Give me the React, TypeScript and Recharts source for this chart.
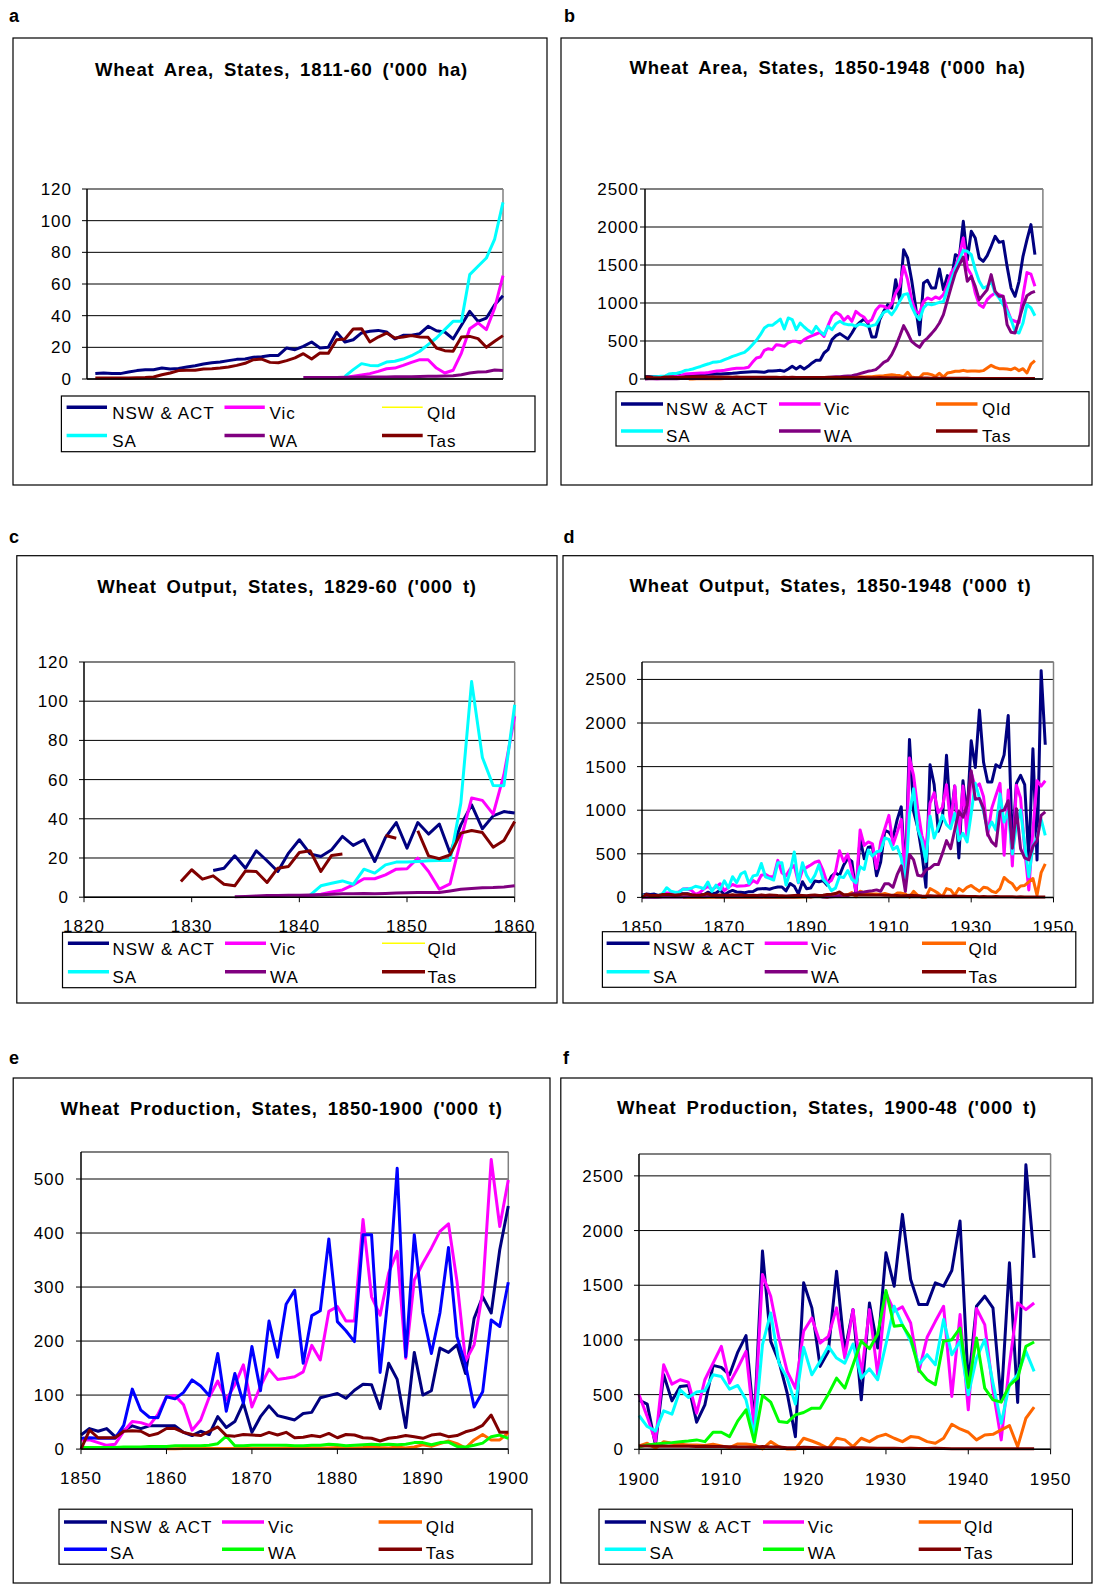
import React from "react";
import { LineChart, Line, XAxis, YAxis, CartesianGrid, ReferenceLine } from "recharts";

type V = number | null;
type Piece = { from: number; v: V[] };

// ---------- Wheat area ('000 ha), 1811-1860 ----------
const areaNsw1: Piece = { from: 1811, v: [
  3.4, 3.8, 3.4, 3.4, 4.4, 5.3, 5.9, 5.9, 6.9, 6.3,
  6.7, 7.6, 8.4, 9.5, 10.3, 10.7, 11.6, 12.4, 12.6, 13.7,
  14.1, 14.9, 14.9, 19.6, 18.5, 20.6, 23.4, 19.6, 20, 29.5,
  23.4, 24.8, 29.1, 30.1, 30.7, 29.7, 25.3, 27.6, 27.6, 28.6,
  33.3, 30.5, 29.7, 25.3, 33.9, 42.7, 36.4, 38.5, 46.9, 52.6] };
const areaVic1: Piece = { from: 1841, v: [
  1.0, 1.7, 2.5, 3.4, 4.8, 6.5, 6.9, 8.6, 10.5, 12.2,
  12.2, 6.9, 3.8, 5.5, 16.4, 31.8, 35.4, 31.2, 44.8, 65.3] };
const areaSa1: Piece = { from: 1841, v: [
  1.7, 5.9, 9.7, 8.6, 8.4, 10.7, 11.2, 12.6, 14.7, 17.5,
  21.7, 25.9, 31.2, 36.4, 36.4, 65.9, 71.2, 76.4, 88.4, 111.6] };
const areaWa1: Piece = { from: 1836, v: [
  1.0, 1.0, 1.0, 1.0, 1.0, 1.1, 1.1, 1.2, 1.2, 1.3, 1.3, 1.4, 1.4, 1.5,
  1.6, 1.7, 1.8, 1.9, 2.1, 2.7, 3.8, 4.4, 4.6, 5.7, 5.3] };
const areaTas1: Piece = { from: 1811, v: [
  0.6, 0.6, 0.6, 0.7, 0.7, 0.8, 0.9, 1.3, 2.7, 3.8,
  5.3, 5.5, 5.5, 6.3, 6.5, 6.9, 7.6, 8.6, 9.9, 12.2,
  12.6, 10.5, 10.3, 11.6, 13.3, 16, 12.6, 16.4, 16.2, 24.8,
  25.3, 31.6, 31.8, 23.4, 26.5, 29, 25.9, 26.5, 27.4, 26.5,
  26.3, 19.6, 17.9, 17.5, 26.5, 26.9, 25.5, 20, 23.8, 27.4] };

// ---------- Wheat area ('000 ha), 1861-1948 ----------
const areaNsw2: Piece = { from: 1861, v: [
  55, 58, 60, 57, 60, 62, 65, 68, 66, 70,
  72, 75, 80, 85, 88, 92, 95, 96, 92, 88,
  105, 105, 110, 114, 101, 132, 167, 132, 167, 132,
  167, 211, 246, 246, 342, 386, 518, 570, 597, 561,
  526, 605, 693, 746, 789, 737, 553, 553, 781, 890,
  978, 934, 1307, 1044, 1702, 1592, 1307, 956, 583, 1263,
  1298, 1197, 1197, 1447, 1175, 1360, 1307, 1636, 1605, 2075,
  1570, 1943, 1855, 1592, 1548, 1623, 1746, 1877, 1798, 1811,
  1482, 1197, 1088, 1285, 1614, 1833, 2031, 1636] };
const areaVic2: Piece = { from: 1861, v: [
  70, 72, 75, 78, 79, 85, 95, 105, 110, 114,
  125, 136, 140, 143, 145, 154, 219, 276, 289, 377,
  399, 386, 452, 443, 430, 474, 496, 496, 474, 518,
  548, 570, 592, 614, 561, 702, 825, 877, 846, 772,
  825, 759, 890, 846, 816, 746, 781, 904, 965, 956,
  921, 991, 1132, 1219, 1482, 1307, 1044, 890, 868, 1022,
  1066, 1044, 1079, 1057, 1110, 1241, 1404, 1474, 1623, 1855,
  1461, 1373, 1132, 978, 943, 1044, 1097, 1132, 1110, 1088,
  921, 781, 760, 740, 1100, 1400, 1380, 1220] };
const areaQld2: Piece = { from: 1861, v: [
  1, 1, 2, 2, 3, 3, 3, 4, 4, 5,
  5, 5, 6, 6, 7, 7, 8, 8, 8, 9,
  9, 9, 10, 10, 10, 11, 11, 12, 12, 12,
  13, 13, 14, 14, 15, 16, 17, 9, 15, 20,
  22, 15, 25, 30, 26, 28, 30, 35, 40, 44,
  50, 57, 48, 45, 30, 88, 25, 18, 20, 70,
  70, 57, 35, 75, 25, 79, 88, 101, 101, 114,
  101, 105, 105, 101, 110, 145, 180, 154, 136, 136,
  132, 123, 145, 110, 136, 79, 197, 241] };
const areaSa2: Piece = { from: 1861, v: [
  120, 132, 150, 165, 184, 200, 219, 225, 232, 254,
  275, 298, 315, 333, 351, 395, 452, 509, 583, 671,
  706, 706, 746, 789, 658, 803, 781, 649, 737, 684,
  640, 605, 693, 627, 583, 693, 649, 728, 759, 728,
  715, 715, 693, 724, 715, 693, 702, 715, 803, 877,
  899, 846, 921, 1022, 1110, 1123, 956, 846, 781, 934,
  991, 978, 991, 1009, 1018, 1175, 1307, 1447, 1570, 1693,
  1680, 1636, 1439, 1285, 1197, 1219, 1285, 1132, 1066, 978,
  890, 781, 627, 605, 737, 978, 934, 833] };
const areaWa2: Piece = { from: 1861, v: [
  6, 6.5, 7, 7.5, 8, 8.5, 9, 9.5, 10, 10,
  10, 11, 11, 12, 12, 12, 12, 12, 12, 12,
  12, 13, 13, 13, 14, 14, 14, 15, 15, 15,
  15, 16, 17, 17, 18, 20, 25, 28, 30, 35,
  40, 44, 55, 70, 85, 101, 110, 123, 167, 219,
  246, 320, 430, 561, 702, 605, 496, 452, 417, 496,
  539, 597, 658, 737, 846, 1035, 1219, 1395, 1504, 1605,
  1285, 1351, 1219, 1044, 1110, 1175, 1373, 1154, 1088, 1088,
  715, 614, 605, 781, 956, 1097, 1132, 1154] };
const areaTas2: Piece = { from: 1861, v: [
  27, 28, 29, 30, 28, 27, 28, 26, 27, 25,
  26, 24, 25, 23, 24, 22, 23, 24, 22, 24,
  23, 22, 24, 21, 22, 20, 22, 21, 20, 19,
  20, 21, 19, 20, 21, 22, 20, 19, 21, 20,
  20, 19, 18, 20, 19, 18, 17, 18, 19, 18,
  17, 16, 15, 14, 15, 14, 13, 12, 12, 13,
  12, 11, 12, 11, 11, 10, 10, 9, 10, 9,
  9, 8, 8, 8, 7, 7, 7, 6, 6, 6,
  6, 6, 5, 5, 5, 5, 5, 5] };

// ---------- Wheat output ('000 t), 1829-1860 ----------
const outNswC: Piece = { from: 1832, v: [
  13.6, 14.8, 21.1, 14.8, 23.7, 18.6, 13.1, 22.5, 29.3,
  22.1, 20.8, 24.2, 31, 26.4, 29.3, 18.2, 30.5, 38.1, 25,
  38.1, 32.2, 37.3, 22.5, 36.9, 47.1, 34.9, 41.5, 43.7, 42.9] };
const outVicC: Piece = { from: 1840, v: [
  0.5, 0.9, 1.5, 2.6, 3.7, 6.3, 9.4, 9.4, 11.4, 14.3, 14.5,
  19.9, 13.1, 4.1, 6.8, 29.3, 50.6, 49.4, 42.4, 62.5, 92.3] };
const outSaC: Piece = { from: 1841, v: [
  1.0, 5.8, 7.1, 8.3, 6.6, 14.3, 12.3, 16.5, 17.9, 17.9,
  18.2, 18.6, 18.7, 18.7, 48, 110, 71.3, 57, 56.9, 98.2] };
const outWaC: Piece = { from: 1834, v: [
  0.2, 0.4, 0.6, 0.8, 0.9, 1, 1, 1.1, 1.3, 1.5, 1.7, 1.8, 1.9, 1.8,
  1.9, 2.1, 2.3, 2.4, 2.4, 2.4, 3.2, 4.0, 4.4, 4.8, 4.9, 5.2, 5.8] };
const outTasC: Piece = { from: 1829, v: [
  8, 14, 9.2, 10.9, 6.6, 5.8, 13.4, 13.1, 7.5, 14.8, 15.7,
  22.8, 23.7, 13.1, 21.3, 22, null, null, null, 31.5, 30.1,
  null, 33.9, 21.1, 19.6, 21.6, 32.7, 34, 33, 25.5, 28.9, 38.6] };

// ---------- Wheat production ('000 t), 1850-1899 ----------
const prodNswE: Piece = { from: 1850, v: [
  26, 38, 33, 38, 23, 35, 43, 38, 43, 43,
  43, 43, 31, 25, 33, 27, 60, 40, 51, 85,
  31, 60, 80, 62, 58, 54, 66, 68, 95, 99,
  103, 94, 109, 120, 119, 75, 159, 129, 40, 179,
  100, 108, 187, 179, 193, 140, 242, 282, 252, 369] };
const prodVicE: Piece = { from: 1850, v: [
  17, 17, 12, 7, 9, 33, 51, 49, 44, 64,
  97, 99, 82, 35, 54, 96, 126, 91, 119, 156,
  78, 116, 148, 129, 131, 134, 143, 192, 165, 255,
  264, 237, 237, 425, 282, 248, 326, 366, 168, 313,
  344, 372, 403, 417, 310, 163, 193, 292, 536, 412] };
const prodQldE: Piece = { from: 1860, v: [
  0.5, 0.5, 1, 1, 1, 1, 1, 1, 1, 1,
  1, 1, 1, 1, 2, 2, 2, 2, 2, 2,
  3, 2, 2, 3, 5, 3, 2, 4, 2, 4,
  8, 5, 10, 15, 10, 2, 17, 27, 17, 17] };
const prodSaE: Piece = { from: 1850, v: [
  20, 21, 20, 20, 20, 44, 111, 72, 59, 58,
  97, 93, 105, 128, 117, 99, 177, 70, 140, 85,
  190, 108, 237, 170, 268, 294, 159, 247, 256, 389,
  236, 219, 199, 397, 397, 142, 292, 520, 171, 397,
  252, 177, 252, 373, 208, 156, 78, 106, 239, 227] };
const prodWaE: Piece = { from: 1850, v: [
  3, 3, 3, 3, 3, 4, 4, 4, 5, 5,
  5, 6, 6, 6, 6, 7, 10, 24, 6, 6,
  7, 7, 7, 7, 7, 6, 6, 7, 7, 9,
  8, 6, 7, 8, 9, 8, 9, 8, 9, 12,
  12, 8, 12, 13, 5, 4, 7, 11, 23, 26] };
const prodTasE: Piece = { from: 1850, v: [
  0, 35, 21, 21, 21, 33, 34, 33, 25, 29,
  38, 38, 31, 27, 25, 33, 41, 25, 24, 27,
  26, 25, 31, 26, 31, 21, 22, 25, 23, 29,
  21, 27, 26, 21, 20, 15, 20, 22, 25, 23,
  20, 26, 28, 23, 25, 32, 36, 44, 63, 31] };

// ---------- Wheat production ('000 t), 1900-1948 ----------
const prodNswF: Piece = { from: 1900, v: [
  450, 413, 40, 681, 443, 575, 584, 248, 406, 767,
  749, 681, 889, 1039, 238, 1812, 987, 804, 513, 116,
  1522, 1293, 758, 895, 1629, 895, 1277, 452, 1338, 926,
  1797, 1491, 2148, 1552, 1323, 1323, 1522, 1491, 1635, 2087,
  590, 1308, 1400, 1293, 437, 1705, 428, 2601, 1751] };
const prodVicF: Piece = { from: 1900, v: [
  498, 299, 70, 773, 596, 636, 614, 330, 636, 788,
  941, 605, 743, 895, 193, 1598, 1400, 1018, 712, 559,
  1079, 1201, 972, 1033, 1293, 834, 1277, 681, 1277, 681,
  1430, 1262, 1302, 1155, 712, 1024, 1170, 1308, 483, 1232,
  361, 1287, 1140, 544, 86, 773, 1338, 1277, 1338] };
const prodQldF: Piece = { from: 1900, v: [
  30, 55, 9, 70, 55, 46, 40, 40, 34, 46,
  31, 15, 49, 49, 40, 3, 70, 24, 3, 3,
  101, 76, 46, 9, 101, 86, 24, 101, 70, 116,
  137, 101, 70, 116, 107, 70, 55, 101, 229, 186,
  156, 86, 131, 137, 177, 217, 24, 284, 385] };
const prodSaF: Piece = { from: 1900, v: [
  309, 208, 168, 351, 321, 544, 474, 523, 535, 681,
  666, 550, 584, 452, 131, 957, 1247, 788, 651, 413,
  932, 681, 804, 941, 834, 788, 963, 651, 736, 636,
  963, 1308, 1140, 987, 773, 865, 773, 1186, 865, 987,
  498, 834, 1002, 605, 238, 590, 681, 895, 712] };
const prodWaF: Piece = { from: 1900, v: [
  20, 40, 49, 55, 61, 70, 76, 86, 70, 156,
  156, 116, 260, 361, 70, 492, 431, 254, 244, 315,
  336, 376, 376, 504, 651, 559, 773, 987, 920, 1054,
  1452, 1125, 1134, 1018, 727, 636, 590, 987, 1002, 1109,
  565, 1018, 559, 452, 431, 584, 651, 941, 981] };
const prodTasF: Piece = { from: 1900, v: [
  31, 30, 28, 30, 28, 27, 28, 26, 27, 25,
  26, 24, 22, 20, 18, 25, 22, 20, 15, 14,
  18, 17, 15, 14, 13, 12, 15, 14, 12, 10,
  10, 9, 8, 10, 8, 7, 9, 8, 6, 6,
  6, 5, 6, 5, 5, 4, 5, 5, 5] };

const NAVY = "#000080", MAGENTA = "#FF00FF", YELLOW = "#FFFF00", ORANGE = "#FF6600";
const CYAN = "#00FFFF", BLUE = "#0000FF", PURPLE = "#800080", GREEN = "#00FF00", MAROON = "#800000";
const FONT = "'Liberation Sans', Arial, Helvetica, sans-serif";

type S = { key: string; name: string; color: string; pieces: Piece[]; thin?: boolean };

type Panel = {
  letter: string; lx: number; ly: number;
  title: string; tx: number; ty: number;
  box: number[]; plot: number[];
  years: [number, number];
  xDomain: [number, number]; xTicks: number[]; xLabels: boolean; xMargin: number;
  yMax: number; yTicks: number[]; yMargin: number;
  series: S[];
  legBox: number[]; legLines: number[][]; legText: number[]; legRows: number[][];
};

const step = (a: number, b: number, s: number) => {
  const out: number[] = [];
  for (let x = a; x <= b; x += s) out.push(x);
  return out;
};

const valueAt = (pieces: Piece[], year: number): V => {
  for (const p of pieces) {
    const i = year - p.from;
    if (i >= 0 && i < p.v.length) return p.v[i];
  }
  return null;
};

const states = (nsw: Piece[], vic: Piece[], qld: Piece[], sa: Piece[], wa: Piece[], tas: Piece[],
  qldC: string, saC: string, waC: string, qldThin = false): S[] => [
  { key: "nsw", name: "NSW & ACT", color: NAVY, pieces: nsw },
  { key: "vic", name: "Vic", color: MAGENTA, pieces: vic },
  { key: "qld", name: "Qld", color: qldC, pieces: qld, thin: qldThin },
  { key: "sa", name: "SA", color: saC, pieces: sa },
  { key: "wa", name: "WA", color: waC, pieces: wa },
  { key: "tas", name: "Tas", color: MAROON, pieces: tas },
];

const panels: Panel[] = [
  {
    letter: "a", lx: 9, ly: 21.7, title: "Wheat Area, States, 1811-60 ('000 ha)", tx: 281.5, ty: 69.3,
    box: [13, 38, 547, 485], plot: [86.7, 189.3, 502.7, 379.3], years: [1811, 1860],
    xDomain: [1810, 1860], xTicks: step(1810, 1860, 10), xLabels: false, xMargin: 18,
    yMax: 120, yTicks: step(0, 120, 20), yMargin: 10,
    series: states([areaNsw1], [areaVic1], [], [areaSa1], [areaWa1], [areaTas1], YELLOW, CYAN, PURPLE, true),
    legBox: [61.4, 396, 535, 451.7], legLines: [[66.6, 107], [224.5, 264.8], [382, 422.7]],
    legText: [112.2, 269.4, 427], legRows: [[407.3, 413], [435.5, 441]],
  },
  {
    letter: "b", lx: 564, ly: 21.7, title: "Wheat Area, States, 1850-1948 ('000 ha)", tx: 827.6, ty: 67.7,
    box: [561, 38, 1092, 485], plot: [645.4, 189.3, 1043.3, 379.3], years: [1850, 1948],
    xDomain: [1850, 1950], xTicks: step(1850, 1950, 20), xLabels: false, xMargin: 18,
    yMax: 2500, yTicks: step(0, 2500, 500), yMargin: 1,
    series: states([areaNsw1, areaNsw2], [areaVic1, areaVic2], [areaQld2], [areaSa1, areaSa2],
      [areaWa1, areaWa2], [areaTas1, areaTas2], ORANGE, CYAN, PURPLE),
    legBox: [616, 391.7, 1089, 446], legLines: [[621, 663], [779, 820.6], [936, 977.5]],
    legText: [666, 824, 982], legRows: [[404, 409.3], [431, 436.3]],
  },
  {
    letter: "c", lx: 9, ly: 543.3, title: "Wheat Output, States, 1829-60 ('000 t)", tx: 287, ty: 586,
    box: [16.8, 555.7, 557, 1003], plot: [84, 662.3, 514.7, 897.5], years: [1829, 1860],
    xDomain: [1820, 1860], xTicks: step(1820, 1860, 10), xLabels: true, xMargin: 18,
    yMax: 120, yTicks: step(0, 120, 20), yMargin: 10,
    series: states([outNswC], [outVicC], [], [outSaC], [outWaC], [outTasC], YELLOW, CYAN, PURPLE, true),
    legBox: [62.5, 932.3, 535.7, 987.7], legLines: [[67.9, 109], [225, 266], [382, 425]],
    legText: [112.5, 270, 427.5], legRows: [[943.3, 949.3], [971.7, 977.3]],
  },
  {
    letter: "d", lx: 563.5, ly: 543, title: "Wheat Output, States, 1850-1948 ('000 t)", tx: 830.5, ty: 585,
    box: [563, 555.7, 1093, 1003], plot: [642, 662.3, 1053.5, 897.7], years: [1850, 1948],
    xDomain: [1850, 1950], xTicks: step(1850, 1950, 20), xLabels: true, xMargin: 19,
    yMax: 2700, yTicks: step(0, 2500, 500), yMargin: 10,
    series: states([prodNswE, prodNswF], [prodVicE, prodVicF], [prodQldE, prodQldF], [prodSaE, prodSaF],
      [prodWaE, prodWaF], [prodTasE, prodTasF], ORANGE, CYAN, PURPLE),
    legBox: [602.4, 931.7, 1075.8, 987.3], legLines: [[606.6, 649.5], [764.7, 807.7], [922, 966]],
    legText: [653, 811, 968.5], legRows: [[943.3, 949.3], [971.7, 977.3]],
  },
  {
    letter: "e", lx: 9, ly: 1064, title: "Wheat Production, States, 1850-1900 ('000 t)", tx: 281.6, ty: 1108.5,
    box: [13.2, 1078, 550, 1583], plot: [81, 1152, 508.3, 1449.1], years: [1850, 1900],
    xDomain: [1850, 1900], xTicks: step(1850, 1900, 10), xLabels: true, xMargin: 18,
    yMax: 550, yTicks: step(0, 500, 100), yMargin: 11,
    series: states([prodNswE, prodNswF], [prodVicE, prodVicF], [prodQldE, prodQldF], [prodSaE, prodSaF],
      [prodWaE, prodWaF], [prodTasE, prodTasF], ORANGE, BLUE, GREEN),
    legBox: [59, 1509.2, 532, 1564.2], legLines: [[64, 107], [222, 264], [378.6, 422]],
    legText: [110, 268, 425.7], legRows: [[1522, 1527.3], [1549.2, 1553.7]],
  },
  {
    letter: "f", lx: 563, ly: 1064, title: "Wheat Production, States, 1900-48 ('000 t)", tx: 827, ty: 1107.8,
    box: [560.8, 1078, 1092, 1583], plot: [638.7, 1154.2, 1050.3, 1449.5], years: [1900, 1948],
    xDomain: [1900, 1950], xTicks: step(1900, 1950, 10), xLabels: true, xMargin: 19,
    yMax: 2700, yTicks: step(0, 2500, 500), yMargin: 10,
    series: states([prodNswF], [prodVicF], [prodQldF], [prodSaF], [prodWaF], [prodTasF], ORANGE, CYAN, GREEN),
    legBox: [599, 1509.2, 1072.4, 1564.2], legLines: [[604.8, 646], [763, 804], [918.7, 961]],
    legText: [649.5, 807.7, 964], legRows: [[1522, 1527.3], [1549.2, 1553.7]],
  },
];

const YW = 60;
const XH = 44;
const MT = 10;
const MR = 36;

const tickStyle = { fontSize: 17, fill: "#000", fontFamily: FONT, letterSpacing: 1 };

const PanelChart = ({ p }: { p: Panel }) => {
  const [L, T, R, B] = p.plot;
  const rows = step(p.years[0], p.years[1], 1).map((year) => {
    const row: Record<string, V> = { year };
    p.series.forEach((s) => { row[s.key] = valueAt(s.pieces, year); });
    return row;
  });
  const w = YW + (R - L) + MR;
  const h = MT + (B - T) + XH;
  return (
    <div style={{ position: "absolute", left: L - YW, top: T - MT, width: w, height: h }}>
      <LineChart width={w} height={h} data={rows} margin={{ top: MT, right: MR, bottom: 0, left: 0 }}>
        <CartesianGrid vertical={false} stroke="#000" strokeWidth={1} />
        <ReferenceLine y={p.yMax} stroke="#808080" strokeWidth={1.5} />
        <ReferenceLine x={p.xDomain[1]} stroke="#808080" strokeWidth={1.5} />
        <XAxis dataKey="year" type="number" domain={p.xDomain} ticks={p.xTicks} interval={0}
          height={XH} tickSize={5} tickMargin={p.xMargin}
          axisLine={{ stroke: "#000", strokeWidth: 1.5 }} tickLine={{ stroke: "#000" }}
          tick={p.xLabels ? tickStyle : false} allowDecimals={false} />
        <YAxis type="number" domain={[0, p.yMax]} ticks={p.yTicks} interval={0} width={YW}
          tickSize={5} tickMargin={p.yMargin}
          axisLine={{ stroke: "#000", strokeWidth: 1.5 }} tickLine={{ stroke: "#000" }}
          tick={tickStyle} />
        {p.series.filter((s) => s.pieces.length > 0).map((s) => (
          <Line key={s.key} type="linear" dataKey={s.key} stroke={s.color} strokeWidth={3}
            strokeLinejoin="round" dot={false} activeDot={false} isAnimationActive={false} />
        ))}
      </LineChart>
    </div>
  );
};

const Overlay = () => (
  <svg width={1094} height={1585} style={{ position: "absolute", left: 0, top: 0, pointerEvents: "none" }}
    fontFamily={FONT}>
    {panels.map((p) => {
      const [bl, bt, br, bb] = p.box;
      const [gl, gt, gr, gb] = p.legBox;
      return (
        <g key={p.letter}>
          <rect x={bl} y={bt} width={br - bl} height={bb - bt} fill="none" stroke="#000" strokeWidth={1.2} />
          <text x={p.lx} y={p.ly} fontSize={18} fontWeight="bold">{p.letter}</text>
          <text x={p.tx} y={p.ty} fontSize={18.5} fontWeight="bold" textAnchor="middle"
            dominantBaseline="central" letterSpacing={0.8} wordSpacing={4}>{p.title}</text>
          <rect x={gl} y={gt} width={gr - gl} height={gb - gt} fill="#fff" stroke="#000" strokeWidth={1.2} />
          {p.series.map((s, i) => {
            const col = i % 3;
            const row = Math.floor(i / 3);
            const [x1, x2] = p.legLines[col];
            const [lineY, textY] = p.legRows[row];
            return (
              <g key={s.key}>
                <line x1={x1} x2={x2} y1={lineY} y2={lineY} stroke={s.color} strokeWidth={s.thin ? 1.5 : 3.5} />
                <text x={p.legText[col]} y={textY} fontSize={17} letterSpacing={1}
                  dominantBaseline="central">{s.name}</text>
              </g>
            );
          })}
        </g>
      );
    })}
  </svg>
);

export default function App() {
  return (
    <div style={{ position: "relative", width: 1094, height: 1585, background: "#fff", overflow: "hidden" }}>
      <style>{"body{margin:0}"}</style>
      {panels.map((p) => <PanelChart key={p.letter} p={p} />)}
      <Overlay />
    </div>
  );
}
